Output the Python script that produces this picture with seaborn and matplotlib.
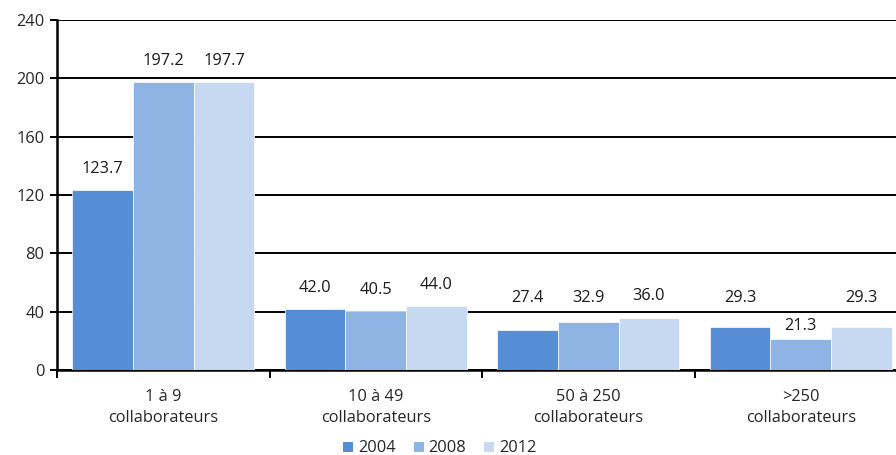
import matplotlib
matplotlib.use("Agg")
import matplotlib.pyplot as plt
import seaborn as sns
import pandas as pd
from matplotlib.ticker import FixedLocator

categories = ["1 à 9\ncollaborateurs", "10 à 49\ncollaborateurs",
              "50 à 250\ncollaborateurs", ">250\ncollaborateurs"]
years = ["2004", "2008", "2012"]
values_2004 = [123.7, 42.0, 27.4, 29.3]
values_2008 = [197.2, 40.5, 32.9, 21.3]
values_2012 = [197.7, 44.0, 36.0, 29.3]
colors = ["#558ED5", "#8EB4E3", "#C6D9F1"]
y_ticks = [0, 40, 80, 120, 160, 200, 240]

rows = []
for year, vals in zip(years, [values_2004, values_2008, values_2012]):
    for cat, v in zip(categories, vals):
        rows.append({"categorie": cat, "annee": year, "valeur": v})
df = pd.DataFrame(rows)

sns.set_style("white")
plt.rcParams["font.family"] = ["Open Sans", "DejaVu Sans"]
FS = 11.8

fig = plt.figure(figsize=(8.96, 4.55), dpi=100)
# the plotting area runs slightly past the right edge of the figure
ax = fig.add_axes([57 / 896, 85 / 455, 850 / 896, 350 / 455])

sns.barplot(data=df, x="categorie", y="valeur", hue="annee", order=categories,
            hue_order=years, palette=colors, width=0.857, gap=0,
            edgecolor="white", linewidth=0.5, saturation=1, ax=ax, zorder=3)

ax.set_ylim(0, 240)
ax.set_xlim(-0.5, 3.5)
ax.set_yticks(y_ticks)
ax.yaxis.grid(True, color="black", linewidth=1.4, zorder=0)
ax.set_axisbelow(True)
ax.set_xlabel("")
ax.set_ylabel("")

for s in ["top", "right"]:
    ax.spines[s].set_visible(False)
for s in ["left", "bottom"]:
    ax.spines[s].set_color("black")
    ax.spines[s].set_linewidth(1.8)

ax.tick_params(axis="y", which="major", length=5, width=1.4, color="black",
               labelsize=FS, pad=4, direction="out", left=True)
ax.tick_params(axis="x", which="major", length=0, labelsize=FS, pad=14)
ax.xaxis.set_minor_locator(FixedLocator([-0.5, 0.5, 1.5, 2.5]))
ax.tick_params(axis="x", which="minor", length=6, width=1.4, color="black",
               direction="out", bottom=True)
for lbl in ax.get_xticklabels():
    lbl.set_linespacing(1.4)

# value labels above bars, nudged off the gridlines when they would sit on one
offset = 14.4
clear = 9.6
for container in ax.containers:
    for patch in container:
        v = patch.get_height()
        x = patch.get_x() + patch.get_width() / 2
        y = v + offset
        for g in y_ticks:
            if abs(y - g) < clear:
                y = g + clear if y > g else g - clear
        ax.text(x, y, f"{v:.1f}", ha="center", va="center", fontsize=FS,
                color="#1a1a1a", zorder=5)

leg = ax.legend(loc="center", bbox_to_anchor=(383 / 850, -78.5 / 350), ncol=3,
                frameon=False, fontsize=FS, handlelength=0.6, handleheight=0.6,
                handletextpad=0.3, columnspacing=1.1, borderaxespad=0,
                borderpad=0)
for h in leg.legend_handles:
    h.set_edgecolor("none")

fig.savefig("out.png", dpi=100)
